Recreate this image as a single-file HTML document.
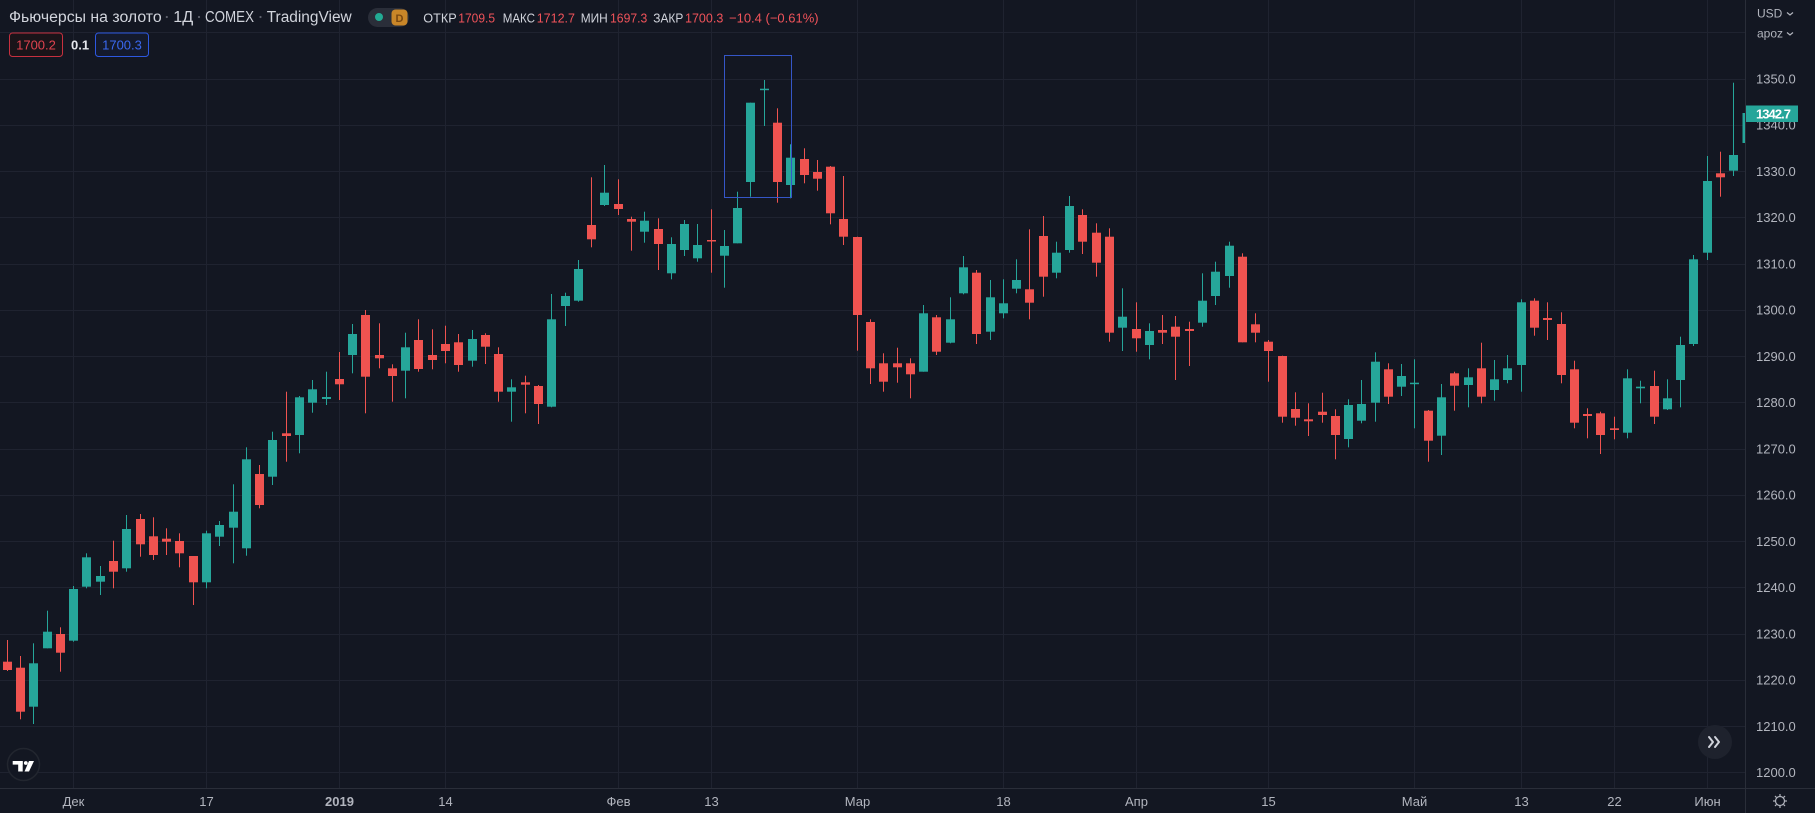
<!DOCTYPE html>
<html>
<head>
<meta charset="utf-8">
<style>
  html,body{margin:0;padding:0;background:#131722;}
  svg{display:block;}
  text{font-family:"Liberation Sans","DejaVu Sans",sans-serif;}
</style>
</head>
<body>
<svg width="1815" height="813" viewBox="0 0 1815 813" xmlns="http://www.w3.org/2000/svg">
  <rect x="0" y="0" width="1815" height="813" fill="#131722"/>

  <!-- horizontal gridlines -->
  <g stroke="#1f2330" stroke-width="1">
    <line x1="0" y1="32.5" x2="1745" y2="32.5"/>
    <line x1="0" y1="79.5" x2="1745" y2="79.5"/>
    <line x1="0" y1="125.5" x2="1745" y2="125.5"/>
    <line x1="0" y1="171.5" x2="1745" y2="171.5"/>
    <line x1="0" y1="217.5" x2="1745" y2="217.5"/>
    <line x1="0" y1="264.5" x2="1745" y2="264.5"/>
    <line x1="0" y1="310.5" x2="1745" y2="310.5"/>
    <line x1="0" y1="356.5" x2="1745" y2="356.5"/>
    <line x1="0" y1="402.5" x2="1745" y2="402.5"/>
    <line x1="0" y1="449.5" x2="1745" y2="449.5"/>
    <line x1="0" y1="495.5" x2="1745" y2="495.5"/>
    <line x1="0" y1="541.5" x2="1745" y2="541.5"/>
    <line x1="0" y1="587.5" x2="1745" y2="587.5"/>
    <line x1="0" y1="634.5" x2="1745" y2="634.5"/>
    <line x1="0" y1="680.5" x2="1745" y2="680.5"/>
    <line x1="0" y1="726.5" x2="1745" y2="726.5"/>
    <line x1="0" y1="772.5" x2="1745" y2="772.5"/>
  </g>
  <!-- vertical gridlines -->
  <g stroke="#1f2330" stroke-width="1">
    <line x1="73.5" y1="0" x2="73.5" y2="788"/>
    <line x1="206.5" y1="0" x2="206.5" y2="788"/>
    <line x1="339.5" y1="0" x2="339.5" y2="788"/>
    <line x1="445.5" y1="0" x2="445.5" y2="788"/>
    <line x1="618.5" y1="0" x2="618.5" y2="788"/>
    <line x1="711.5" y1="0" x2="711.5" y2="788"/>
    <line x1="857.5" y1="0" x2="857.5" y2="788"/>
    <line x1="1003.5" y1="0" x2="1003.5" y2="788"/>
    <line x1="1136.5" y1="0" x2="1136.5" y2="788"/>
    <line x1="1268.5" y1="0" x2="1268.5" y2="788"/>
    <line x1="1414.5" y1="0" x2="1414.5" y2="788"/>
    <line x1="1521.5" y1="0" x2="1521.5" y2="788"/>
    <line x1="1614.5" y1="0" x2="1614.5" y2="788"/>
    <line x1="1707.5" y1="0" x2="1707.5" y2="788"/>
  </g>

  <!-- red candles -->
  <g fill="#ef5350">
    <rect x="7" y="640" width="1" height="31"/><rect x="3" y="661.7" width="9" height="8.3"/>
    <rect x="20" y="656" width="1" height="63.3"/><rect x="16" y="667.7" width="9" height="44"/>
    <rect x="60" y="627.3" width="1" height="44.4"/><rect x="56" y="634" width="9" height="18.7"/>
    <rect x="113" y="540.7" width="1" height="47.6"/><rect x="109" y="561" width="9" height="10.7"/>
    <rect x="140" y="514" width="1" height="42.7"/><rect x="136" y="519" width="9" height="25.3"/>
    <rect x="153" y="517.3" width="1" height="42.7"/><rect x="149" y="536.3" width="9" height="18.7"/>
    <rect x="166" y="528.3" width="1" height="26.7"/><rect x="162" y="538.7" width="9" height="3"/>
    <rect x="179" y="533.3" width="1" height="34"/><rect x="175" y="541" width="9" height="12.3"/>
    <rect x="193" y="556" width="1" height="49"/><rect x="189" y="556" width="9" height="26.3"/>
    <rect x="259" y="465" width="1" height="43.3"/><rect x="255" y="474" width="9" height="31"/>
    <rect x="286" y="391.7" width="1" height="70"/><rect x="282" y="433.3" width="9" height="2.7"/>
    <rect x="339" y="352" width="1" height="48"/><rect x="335" y="379" width="9" height="5.3"/>
    <rect x="365" y="310" width="1" height="103.3"/><rect x="361" y="315" width="9" height="61.7"/>
    <rect x="379" y="323.3" width="1" height="45"/><rect x="375" y="355" width="9" height="3.3"/>
    <rect x="392" y="364.3" width="1" height="37.4"/><rect x="388" y="368.3" width="9" height="7.7"/>
    <rect x="418" y="319.3" width="1" height="52.4"/><rect x="414" y="340" width="9" height="29"/>
    <rect x="432" y="329.3" width="1" height="40"/><rect x="428" y="355" width="9" height="5"/>
    <rect x="445" y="325.7" width="1" height="37.6"/><rect x="441" y="344" width="9" height="7"/>
    <rect x="458" y="334" width="1" height="37.7"/><rect x="454" y="342.3" width="9" height="22.7"/>
    <rect x="485" y="333.3" width="1" height="30.7"/><rect x="481" y="335" width="9" height="11.7"/>
    <rect x="498" y="347.3" width="1" height="54.4"/><rect x="494" y="354" width="9" height="37.7"/>
    <rect x="525" y="375.7" width="1" height="37.6"/><rect x="521" y="382.3" width="9" height="2.4"/>
    <rect x="538" y="385" width="1" height="39"/><rect x="534" y="386" width="9" height="18"/>
    <rect x="591" y="177.3" width="1" height="70"/><rect x="587" y="225" width="9" height="14.3"/>
    <rect x="618" y="179.3" width="1" height="35.7"/><rect x="614" y="204" width="9" height="5"/>
    <rect x="631" y="216.7" width="1" height="34"/><rect x="627" y="219" width="9" height="2.7"/>
    <rect x="658" y="218.3" width="1" height="51.7"/><rect x="654" y="229" width="9" height="15"/>
    <rect x="711" y="209.3" width="1" height="63.4"/><rect x="707" y="240" width="9" height="1.5"/>
    <rect x="777" y="108.3" width="1" height="94.4"/><rect x="773" y="122.7" width="9" height="59.3"/>
    <rect x="804" y="148.3" width="1" height="35"/><rect x="800" y="159" width="9" height="16"/>
    <rect x="817" y="160" width="1" height="30.7"/><rect x="813" y="172" width="9" height="6.7"/>
    <rect x="830" y="166" width="1" height="58.3"/><rect x="826" y="166.7" width="9" height="46.6"/>
    <rect x="843" y="176" width="1" height="69"/><rect x="839" y="219" width="9" height="17.7"/>
    <rect x="857" y="236.7" width="1" height="114"/><rect x="853" y="237" width="9" height="78"/>
    <rect x="870" y="319.3" width="1" height="64.7"/><rect x="866" y="322" width="9" height="46.3"/>
    <rect x="883" y="353.3" width="1" height="38.4"/><rect x="879" y="363.3" width="9" height="18.4"/>
    <rect x="897" y="347.7" width="1" height="35"/><rect x="893" y="363.3" width="9" height="4"/>
    <rect x="910" y="358.3" width="1" height="40"/><rect x="906" y="363.3" width="9" height="11"/>
    <rect x="936" y="315" width="1" height="40"/><rect x="932" y="317.3" width="9" height="34.4"/>
    <rect x="976" y="270" width="1" height="74"/><rect x="972" y="272.7" width="9" height="61.3"/>
    <rect x="1029" y="229.3" width="1" height="90"/><rect x="1025" y="289.3" width="9" height="13.4"/>
    <rect x="1043" y="216" width="1" height="80.7"/><rect x="1039" y="236" width="9" height="40.7"/>
    <rect x="1082" y="209.3" width="1" height="44.7"/><rect x="1078" y="215" width="9" height="26.7"/>
    <rect x="1096" y="223.3" width="1" height="53.4"/><rect x="1092" y="232.7" width="9" height="30"/>
    <rect x="1109" y="228.3" width="1" height="113.4"/><rect x="1105" y="236.7" width="9" height="96"/>
    <rect x="1136" y="302.3" width="1" height="49.4"/><rect x="1132" y="329" width="9" height="9.3"/>
    <rect x="1162" y="315" width="1" height="29"/><rect x="1158" y="330" width="9" height="2.7"/>
    <rect x="1175" y="316" width="1" height="64"/><rect x="1171" y="326.7" width="9" height="10"/>
    <rect x="1189" y="321.7" width="1" height="44.3"/><rect x="1185" y="329" width="9" height="2"/>
    <rect x="1242" y="253.3" width="1" height="89"/><rect x="1238" y="256.7" width="9" height="85.6"/>
    <rect x="1255" y="313.3" width="1" height="29"/><rect x="1251" y="324.3" width="9" height="8.4"/>
    <rect x="1268" y="340" width="1" height="41.7"/><rect x="1264" y="341.7" width="9" height="9.3"/>
    <rect x="1282" y="355.7" width="1" height="67"/><rect x="1278" y="356" width="9" height="60.7"/>
    <rect x="1295" y="392.3" width="1" height="33.4"/><rect x="1291" y="409" width="9" height="8.7"/>
    <rect x="1308" y="403.3" width="1" height="32.7"/><rect x="1304" y="419.3" width="9" height="2"/>
    <rect x="1322" y="392.7" width="1" height="30"/><rect x="1318" y="411.7" width="9" height="3.3"/>
    <rect x="1335" y="409.3" width="1" height="50"/><rect x="1331" y="416" width="9" height="19"/>
    <rect x="1388" y="363.3" width="1" height="40.7"/><rect x="1384" y="369.3" width="9" height="27.4"/>
    <rect x="1428" y="410" width="1" height="51.7"/><rect x="1424" y="410.7" width="9" height="30"/>
    <rect x="1454" y="371.7" width="1" height="39"/><rect x="1450" y="373.3" width="9" height="12.4"/>
    <rect x="1481" y="342.7" width="1" height="60.6"/><rect x="1477" y="368.3" width="9" height="28.4"/>
    <rect x="1534" y="298.3" width="1" height="37.4"/><rect x="1530" y="300.7" width="9" height="27"/>
    <rect x="1547" y="302.3" width="1" height="37.7"/><rect x="1543" y="318" width="9" height="2"/>
    <rect x="1561" y="312.3" width="1" height="71"/><rect x="1557" y="324" width="9" height="51"/>
    <rect x="1574" y="360.7" width="1" height="67.6"/><rect x="1570" y="369.3" width="9" height="53.4"/>
    <rect x="1587" y="408.3" width="1" height="30"/><rect x="1583" y="414" width="9" height="2"/>
    <rect x="1600" y="411.7" width="1" height="42.3"/><rect x="1596" y="413.3" width="9" height="21.7"/>
    <rect x="1614" y="416.7" width="1" height="22.6"/><rect x="1610" y="428.3" width="9" height="1.7"/>
    <rect x="1654" y="370.7" width="1" height="53.3"/><rect x="1650" y="386" width="9" height="30.7"/>
    <rect x="1720" y="151.7" width="1" height="45"/><rect x="1716" y="173.3" width="9" height="4"/>
  </g>

  <!-- teal candles -->
  <g fill="#26a69a">
    <rect x="33" y="643.3" width="1" height="80.7"/><rect x="29" y="663.3" width="9" height="43.4"/>
    <rect x="47" y="610.7" width="1" height="37.6"/><rect x="43" y="631.7" width="9" height="16.6"/>
    <rect x="73" y="586" width="1" height="55.7"/><rect x="69" y="589" width="9" height="51.7"/>
    <rect x="86" y="553.3" width="1" height="35"/><rect x="82" y="557.3" width="9" height="29.4"/>
    <rect x="100" y="566" width="1" height="29"/><rect x="96" y="576" width="9" height="5.7"/>
    <rect x="126" y="515" width="1" height="56.7"/><rect x="122" y="529" width="9" height="39.3"/>
    <rect x="206" y="530.7" width="1" height="57.6"/><rect x="202" y="533.3" width="9" height="49"/>
    <rect x="219" y="521" width="1" height="25"/><rect x="215" y="525" width="9" height="11.7"/>
    <rect x="233" y="484.3" width="1" height="79"/><rect x="229" y="511.7" width="9" height="16"/>
    <rect x="246" y="447.3" width="1" height="108.4"/><rect x="242" y="459.3" width="9" height="89"/>
    <rect x="272" y="431.7" width="1" height="53.3"/><rect x="268" y="440" width="9" height="36.7"/>
    <rect x="299" y="396" width="1" height="57.3"/><rect x="295" y="397.3" width="9" height="37.7"/>
    <rect x="312" y="380" width="1" height="32.7"/><rect x="308" y="389.3" width="9" height="13.4"/>
    <rect x="326" y="371.7" width="1" height="33.3"/><rect x="322" y="397" width="9" height="2"/>
    <rect x="352" y="324" width="1" height="49.3"/><rect x="348" y="334" width="9" height="21"/>
    <rect x="405" y="332.7" width="1" height="65.6"/><rect x="401" y="347.3" width="9" height="23.4"/>
    <rect x="472" y="330" width="1" height="36.7"/><rect x="468" y="339" width="9" height="21.7"/>
    <rect x="511" y="379.3" width="1" height="42.4"/><rect x="507" y="387.3" width="9" height="4.4"/>
    <rect x="551" y="294" width="1" height="113.3"/><rect x="547" y="319.3" width="9" height="87.4"/>
    <rect x="565" y="292.7" width="1" height="33.3"/><rect x="561" y="296" width="9" height="10"/>
    <rect x="578" y="260" width="1" height="41.7"/><rect x="574" y="269" width="9" height="31.7"/>
    <rect x="604" y="165" width="1" height="41"/><rect x="600" y="192.7" width="9" height="12.3"/>
    <rect x="644" y="211.7" width="1" height="31"/><rect x="640" y="220.7" width="9" height="11"/>
    <rect x="671" y="237.3" width="1" height="42"/><rect x="667" y="244" width="9" height="29.3"/>
    <rect x="684" y="220" width="1" height="36"/><rect x="680" y="224" width="9" height="26"/>
    <rect x="697" y="224" width="1" height="37.7"/><rect x="693" y="245" width="9" height="13.3"/>
    <rect x="724" y="230" width="1" height="57.7"/><rect x="720" y="246" width="9" height="9.7"/>
    <rect x="737" y="191.7" width="1" height="51.6"/><rect x="733" y="208" width="9" height="35.3"/>
    <rect x="750" y="102.7" width="1" height="94"/><rect x="746" y="102.7" width="9" height="79.3"/>
    <rect x="764" y="80" width="1" height="46"/><rect x="760" y="88.7" width="9" height="1.5"/>
    <rect x="790" y="144.3" width="1" height="54"/><rect x="786" y="157.7" width="9" height="27.3"/>
    <rect x="923" y="305" width="1" height="66.7"/><rect x="919" y="313.3" width="9" height="58.4"/>
    <rect x="950" y="297.3" width="1" height="46"/><rect x="946" y="319.3" width="9" height="23.4"/>
    <rect x="963" y="256" width="1" height="38.3"/><rect x="959" y="267.3" width="9" height="26"/>
    <rect x="990" y="280" width="1" height="60"/><rect x="986" y="297.3" width="9" height="34.4"/>
    <rect x="1003" y="279.3" width="1" height="39"/><rect x="999" y="303.3" width="9" height="10"/>
    <rect x="1016" y="259.3" width="1" height="34"/><rect x="1012" y="280" width="9" height="8.7"/>
    <rect x="1056" y="241.7" width="1" height="36.6"/><rect x="1052" y="252.7" width="9" height="20"/>
    <rect x="1069" y="196" width="1" height="56.7"/><rect x="1065" y="206" width="9" height="44"/>
    <rect x="1122" y="288.3" width="1" height="62.7"/><rect x="1118" y="316.7" width="9" height="11"/>
    <rect x="1149" y="323.3" width="1" height="36"/><rect x="1145" y="331" width="9" height="14"/>
    <rect x="1202" y="273.3" width="1" height="53.4"/><rect x="1198" y="300.7" width="9" height="22"/>
    <rect x="1215" y="261.7" width="1" height="43.3"/><rect x="1211" y="271.7" width="9" height="24.3"/>
    <rect x="1229" y="241.7" width="1" height="46"/><rect x="1225" y="245.7" width="9" height="30.3"/>
    <rect x="1348" y="399.3" width="1" height="48"/><rect x="1344" y="405" width="9" height="34"/>
    <rect x="1361" y="380" width="1" height="43.3"/><rect x="1357" y="404" width="9" height="16.7"/>
    <rect x="1375" y="352.3" width="1" height="69.4"/><rect x="1371" y="361.7" width="9" height="41"/>
    <rect x="1401" y="364" width="1" height="32"/><rect x="1397" y="376" width="9" height="10.7"/>
    <rect x="1414" y="359.3" width="1" height="69"/><rect x="1410" y="382.7" width="9" height="1.5"/>
    <rect x="1441" y="384" width="1" height="71"/><rect x="1437" y="397.3" width="9" height="38.4"/>
    <rect x="1468" y="368.3" width="1" height="39"/><rect x="1464" y="377.3" width="9" height="7.7"/>
    <rect x="1494" y="360" width="1" height="40.7"/><rect x="1490" y="379.3" width="9" height="10.7"/>
    <rect x="1507" y="355" width="1" height="28.3"/><rect x="1503" y="368.3" width="9" height="11.7"/>
    <rect x="1521" y="299.3" width="1" height="92.4"/><rect x="1517" y="302.3" width="9" height="62.7"/>
    <rect x="1627" y="369.3" width="1" height="69"/><rect x="1623" y="378.3" width="9" height="54.4"/>
    <rect x="1640" y="380.7" width="1" height="22.6"/><rect x="1636" y="386.7" width="9" height="1.6"/>
    <rect x="1667" y="379.3" width="1" height="30.7"/><rect x="1663" y="398.3" width="9" height="11"/>
    <rect x="1680" y="336.7" width="1" height="70.6"/><rect x="1676" y="345" width="9" height="35"/>
    <rect x="1693" y="255" width="1" height="91"/><rect x="1689" y="259.3" width="9" height="84.7"/>
    <rect x="1707" y="156" width="1" height="104"/><rect x="1703" y="181" width="9" height="71.7"/>
    <rect x="1733" y="82.7" width="1" height="93.3"/><rect x="1729" y="155" width="9" height="15.7"/>
    <rect x="1742.5" y="113" width="3" height="30"/>
  </g>

  <!-- selection rectangle -->
  <rect x="724.5" y="55.5" width="67" height="142" fill="none" stroke="#3556c8" stroke-width="1"/>

  <!-- axis separators -->
  <line x1="1745.5" y1="0" x2="1745.5" y2="813" stroke="#2a2e39" stroke-width="1"/>
  <line x1="0" y1="788.5" x2="1815" y2="788.5" stroke="#2a2e39" stroke-width="1"/>

  <!-- price axis labels -->
  <g fill="#b2b5be" font-size="13">
    <text x="1756" y="83.5">1350.0</text>
    <text x="1756" y="129.5">1340.0</text>
    <text x="1756" y="176">1330.0</text>
    <text x="1756" y="222">1320.0</text>
    <text x="1756" y="268.5">1310.0</text>
    <text x="1756" y="314.5">1300.0</text>
    <text x="1756" y="361">1290.0</text>
    <text x="1756" y="407">1280.0</text>
    <text x="1756" y="453.5">1270.0</text>
    <text x="1756" y="499.5">1260.0</text>
    <text x="1756" y="546">1250.0</text>
    <text x="1756" y="592">1240.0</text>
    <text x="1756" y="638.5">1230.0</text>
    <text x="1756" y="684.5">1220.0</text>
    <text x="1756" y="731">1210.0</text>
    <text x="1756" y="777">1200.0</text>
  </g>
  <!-- last price label -->
  <rect x="1746" y="105.5" width="52" height="16.5" fill="#26a69a"/>
  <text x="1756" y="118.3" fill="#ffffff" font-size="13" font-weight="bold" textLength="35">1342.7</text>

  <!-- currency / unit -->
  <g fill="#b2b5be" font-size="12">
    <text x="1757" y="17.5">USD</text>
    <text x="1757" y="37.5">apoz</text>
  </g>
  <g fill="none" stroke="#b2b5be" stroke-width="1.2">
    <polyline points="1787,12.5 1790,15 1793,12.5"/>
    <polyline points="1787,32.5 1790,35 1793,32.5"/>
  </g>

  <!-- time axis labels -->
  <g fill="#b2b5be" font-size="13" text-anchor="middle">
    <text x="73.5" y="806">Дек</text>
    <text x="206.5" y="806">17</text>
    <text x="339.5" y="806" font-weight="bold">2019</text>
    <text x="445.5" y="806">14</text>
    <text x="618.5" y="806">Фев</text>
    <text x="711.5" y="806">13</text>
    <text x="857.5" y="806">Мар</text>
    <text x="1003.5" y="806">18</text>
    <text x="1136.5" y="806">Апр</text>
    <text x="1268.5" y="806">15</text>
    <text x="1414.5" y="806">Май</text>
    <text x="1521.5" y="806">13</text>
    <text x="1614.5" y="806">22</text>
    <text x="1707.5" y="806">Июн</text>
  </g>

  <!-- gear icon -->
  <g stroke="#b2b5be" stroke-width="1.2" fill="none">
    <circle cx="1780" cy="801" r="4.5"/>
    <line x1="1780" y1="794" x2="1780" y2="796"/>
    <line x1="1780" y1="806" x2="1780" y2="808"/>
    <line x1="1773" y1="801" x2="1775" y2="801"/>
    <line x1="1785" y1="801" x2="1787" y2="801"/>
    <line x1="1775" y1="796" x2="1776.4" y2="797.4"/>
    <line x1="1783.6" y1="804.6" x2="1785" y2="806"/>
    <line x1="1785" y1="796" x2="1783.6" y2="797.4"/>
    <line x1="1776.4" y1="804.6" x2="1775" y2="806"/>
  </g>

  <!-- scroll-to-realtime button -->
  <circle cx="1715" cy="742" r="17" fill="#1e222d"/>
  <g fill="none" stroke="#d1d4dc" stroke-width="2" stroke-linecap="round" stroke-linejoin="round">
    <polyline points="1709,737 1713,742 1709,747"/>
    <polyline points="1715,737 1719,742 1715,747"/>
  </g>

  <!-- TradingView logo -->
  <circle cx="23.5" cy="764.5" r="16" fill="#131722" stroke="#22262f" stroke-width="1.5"/>
  <g fill="#ffffff">
    <rect x="12.7" y="761" width="10" height="3.6"/>
    <rect x="18.2" y="761" width="4.5" height="10.5"/>
    <circle cx="25.8" cy="763" r="1.9"/>
    <polygon points="29,761 34,761 29,771.5 24.5,771.5"/>
  </g>

  <!-- header line 1 -->
  <g font-size="15.5" fill="#d1d4dc">
    <text x="9" y="22" textLength="152.7" lengthAdjust="spacingAndGlyphs">Фьючерсы на золото</text>
    <text x="173.3" y="22" textLength="20" lengthAdjust="spacingAndGlyphs">1Д</text>
    <text x="205" y="22" textLength="49" lengthAdjust="spacingAndGlyphs">COMEX</text>
    <text x="266.7" y="22" textLength="85" lengthAdjust="spacingAndGlyphs">TradingView</text>
  </g>
  <g fill="#5d606b">
    <circle cx="166.8" cy="17" r="1.1"/>
    <circle cx="199" cy="17" r="1.1"/>
    <circle cx="260.5" cy="17" r="1.1"/>
  </g>
  <!-- status pill -->
  <rect x="368" y="8" width="41" height="19" rx="9.5" fill="#2a2e39"/>
  <circle cx="379" cy="17" r="4" fill="#22ab94"/>
  <rect x="391.5" y="9.5" width="16" height="16" rx="4" fill="#c98628"/>
  <text x="399.5" y="22" font-size="11" fill="#7a4810" text-anchor="middle" font-weight="bold">D</text>

  <!-- OHLC -->
  <g font-size="13">
    <text x="423.3" y="22.5" fill="#d1d4dc" textLength="33.4" lengthAdjust="spacingAndGlyphs">ОТКР</text>
    <text x="458.3" y="22.5" fill="#f0535a" textLength="36.7" lengthAdjust="spacingAndGlyphs">1709.5</text>
    <text x="502.7" y="22.5" fill="#d1d4dc" textLength="32.3" lengthAdjust="spacingAndGlyphs">МАКС</text>
    <text x="536.7" y="22.5" fill="#f0535a" textLength="38.3" lengthAdjust="spacingAndGlyphs">1712.7</text>
    <text x="580.7" y="22.5" fill="#d1d4dc" textLength="27" lengthAdjust="spacingAndGlyphs">МИН</text>
    <text x="610" y="22.5" fill="#f0535a" textLength="37.3" lengthAdjust="spacingAndGlyphs">1697.3</text>
    <text x="653.3" y="22.5" fill="#d1d4dc" textLength="30" lengthAdjust="spacingAndGlyphs">ЗАКР</text>
    <text x="685" y="22.5" fill="#f0535a" textLength="38.3" lengthAdjust="spacingAndGlyphs">1700.3</text>
    <text x="729" y="22.5" fill="#f0535a">−10.4 (−0.61%)</text>
  </g>

  <!-- header line 2 -->
  <rect x="9.5" y="33" width="53" height="23.5" rx="3" fill="#1a1419" stroke="#c7303f" stroke-width="1"/>
  <text x="36" y="49.5" font-size="13" fill="#e0434f" text-anchor="middle">1700.2</text>
  <text x="71" y="49.5" font-size="13" fill="#e6e8ee" font-weight="bold">0.1</text>
  <rect x="95.5" y="33" width="53" height="23.5" rx="3" fill="#141a2c" stroke="#2d58e0" stroke-width="1"/>
  <text x="122" y="49.5" font-size="13" fill="#3a68f0" text-anchor="middle">1700.3</text>
</svg>
</body>
</html>
